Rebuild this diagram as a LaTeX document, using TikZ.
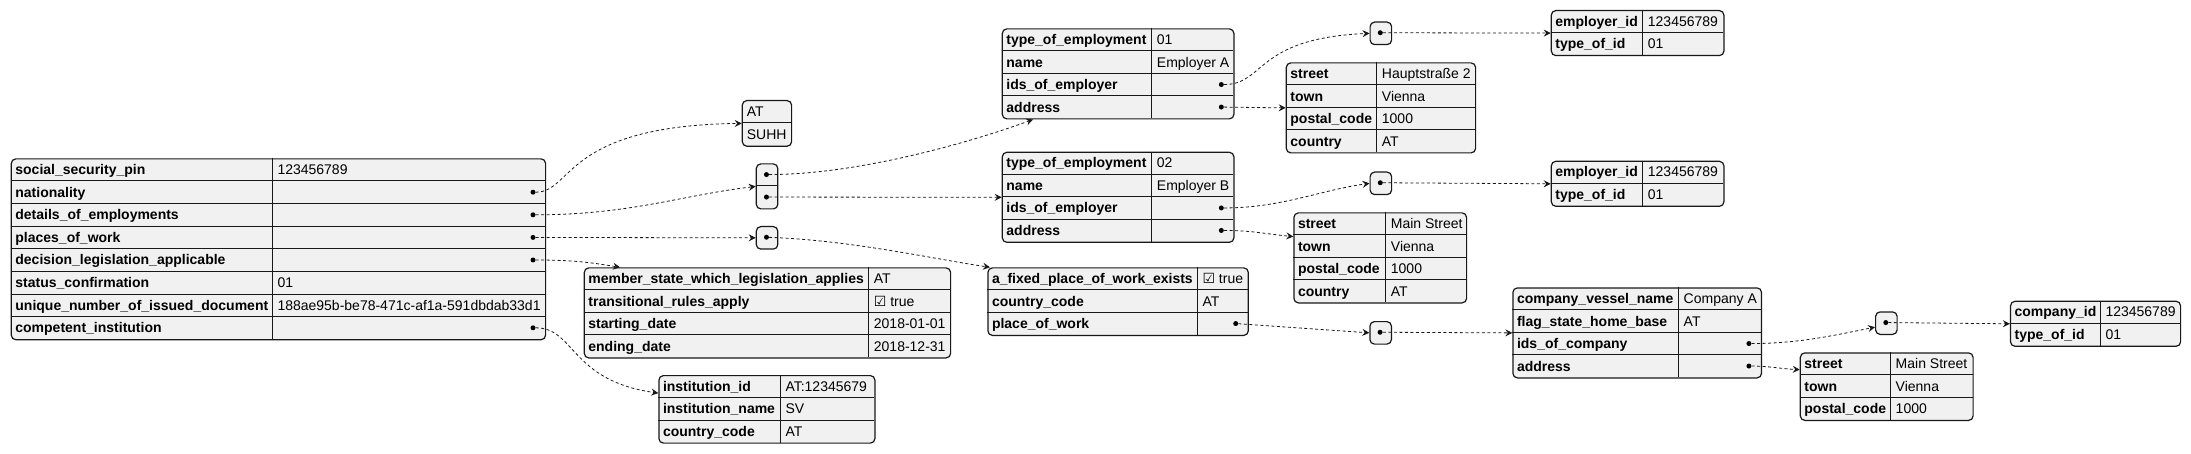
\documentclass[tikz,border=0pt]{standalone}
\usepackage{fontspec}
\setmainfont{Liberation Sans}
\newfontfamily\symf{DejaVu Sans}
\usetikzlibrary{arrows.meta}
\definecolor{cellbg}{HTML}{F1F1F1}
\definecolor{edge}{HTML}{181818}
\tikzstyle{tbl}=[draw=edge, line width=1.2pt, fill=cellbg, rounded corners=4.5pt, anchor=north west, inner sep=0pt]
\tikzstyle{kcell}=[anchor=west, inner xsep=4.5pt, inner ysep=0pt, text height=12pt, text depth=2pt, font=\fontsize{14}{16}\selectfont\bfseries]
\tikzstyle{vcell}=[kcell, inner xsep=5pt, font=\fontsize{14}{16}\selectfont]
\tikzstyle{bullet}=[circle, fill=black, minimum size=5pt, inner sep=0pt]
\tikzstyle{rule}=[draw=edge, line width=0.8pt]
\tikzstyle{conn}=[draw=edge, line width=0.8pt, dash pattern=on 3pt off 2.5pt, -{Stealth[length=7pt,width=7pt,inset=2.5pt]}]
\begin{document}
\begin{tikzpicture}[x=1pt, y=-1pt]
\useasboundingbox (0,0) rectangle (2191,454);
\node[tbl, minimum width=534.3pt, minimum height=180.8pt] (root) at (10.7,158.3) {};
\foreach \i in {1,...,7} \draw[rule] (10.7,158.3+22.6*\i) -- (545,158.3+22.6*\i);
\draw[rule] (272.3,158.3) -- (272.3,339.1);
\foreach \k/\v [count=\i] in {social\_security\_pin/123456789, nationality/{}, details\_of\_employments/{}, places\_of\_work/{}, decision\_legislation\_applicable/{}, status\_confirmation/01, unique\_number\_of\_issued\_document/188ae95b-be78-471c-af1a-591dbdab33d1, competent\_institution/{}} {
  \node[kcell] (root-k\i) at (10.7,147+22.6*\i) {\k};
  \node[vcell] (root-v\i) at (272.3,147+22.6*\i) {\v};
}
\node[bullet] (root-d2) at (533,192.2) {};
\node[bullet] (root-d3) at (533,214.8) {};
\node[bullet] (root-d4) at (533,237.4) {};
\node[bullet] (root-d5) at (533,260) {};
\node[bullet] (root-d8) at (533,327.8) {};

\node[tbl, minimum width=49.3pt, minimum height=45.6pt] (natl) at (741.7,100) {};
\draw[rule] (741.7,122.8) -- (791,122.8);
\node[vcell] (natl-v1) at (741.7,111.4) {AT};
\node[vcell] (natl-v2) at (741.7,134.2) {SUHH};

\node[tbl, minimum width=21.5pt, minimum height=45pt] (emps) at (755.7,163.3) {};
\draw[rule] (755.7,185.8) -- (777.2,185.8);
\node[bullet] (emps-d1) at (766.45,174.55) {};
\node[bullet] (emps-d2) at (766.45,197.05) {};

\node[tbl, minimum width=21.5pt, minimum height=22.5pt] (places) at (755.7,226) {};
\node[bullet] (places-d1) at (766.45,237.25) {};

\node[tbl, minimum width=366.3pt, minimum height=90pt] (dla) at (583.7,267.3) {};
\foreach \i in {1,2,3} \draw[rule] (583.7,267.3+22.5*\i) -- (950,267.3+22.5*\i);
\draw[rule] (868.7,267.3) -- (868.7,357.3);
\foreach \k/\v [count=\i] in {member\_state\_which\_legislation\_applies/AT, transitional\_rules\_apply/{\symf ☑} true, starting\_date/2018-01-01, ending\_date/2018-12-31} {
  \node[kcell] (dla-k\i) at (583.7,256.05+22.5*\i) {\k};
  \node[vcell] (dla-v\i) at (868.7,256.05+22.5*\i) {\v};
}

\node[tbl, minimum width=216pt, minimum height=67.5pt] (inst) at (658.3,375) {};
\foreach \i in {1,2} \draw[rule] (658.3,375+22.5*\i) -- (874.3,375+22.5*\i);
\draw[rule] (780.3,375) -- (780.3,442.5);
\foreach \k/\v [count=\i] in {institution\_id/AT:12345679, institution\_name/SV, country\_code/AT} {
  \node[kcell] (inst-k\i) at (658.3,363.75+22.5*\i) {\k};
  \node[vcell] (inst-v\i) at (780.3,363.75+22.5*\i) {\v};
}

\node[tbl, minimum width=231.6pt, minimum height=90pt] (empA) at (1001.7,28.3) {};
\foreach \i in {1,2,3} \draw[rule] (1001.7,28.3+22.5*\i) -- (1233.3,28.3+22.5*\i);
\draw[rule] (1151.7,28.3) -- (1151.7,118.3);
\foreach \k/\v [count=\i] in {type\_of\_employment/01, name/Employer A, ids\_of\_employer/{}, address/{}} {
  \node[kcell] (empA-k\i) at (1001.7,17.05+22.5*\i) {\k};
  \node[vcell] (empA-v\i) at (1151.7,17.05+22.5*\i) {\v};
}
\node[bullet] (empA-d3) at (1221.3,84.55) {};
\node[bullet] (empA-d4) at (1221.3,107.05) {};

\node[tbl, minimum width=231.6pt, minimum height=90pt] (empB) at (1001.7,151.7) {};
\foreach \i in {1,2,3} \draw[rule] (1001.7,151.7+22.5*\i) -- (1233.3,151.7+22.5*\i);
\draw[rule] (1151.7,151.7) -- (1151.7,241.7);
\foreach \k/\v [count=\i] in {type\_of\_employment/02, name/Employer B, ids\_of\_employer/{}, address/{}} {
  \node[kcell] (empB-k\i) at (1001.7,140.45+22.5*\i) {\k};
  \node[vcell] (empB-v\i) at (1151.7,140.45+22.5*\i) {\v};
}
\node[bullet] (empB-d3) at (1221.3,207.95) {};
\node[bullet] (empB-d4) at (1221.3,230.45) {};

\node[tbl, minimum width=260.4pt, minimum height=67.5pt] (fpw) at (987.3,267.3) {};
\foreach \i in {1,2} \draw[rule] (987.3,267.3+22.5*\i) -- (1247.7,267.3+22.5*\i);
\draw[rule] (1197.3,267.3) -- (1197.3,334.8);
\foreach \k/\v [count=\i] in {a\_fixed\_place\_of\_work\_exists/{\symf ☑} true, country\_code/AT, place\_of\_work/{}} {
  \node[kcell] (fpw-k\i) at (987.3,256.05+22.5*\i) {\k};
  \node[vcell] (fpw-v\i) at (1197.3,256.05+22.5*\i) {\v};
}
\node[bullet] (fpw-d3) at (1235.7,323.55) {};

\node[tbl, minimum width=21.5pt, minimum height=22.5pt] (idsA) at (1369.5,21.5) {};
\node[bullet] (idsA-d1) at (1380.25,32.75) {};

\node[tbl, minimum width=189.3pt, minimum height=90pt] (addrA) at (1285.7,62.3) {};
\foreach \i in {1,2,3} \draw[rule] (1285.7,62.3+22.5*\i) -- (1475,62.3+22.5*\i);
\draw[rule] (1376.7,62.3) -- (1376.7,152.3);
\foreach \k/\v [count=\i] in {street/Hauptstraße 2, town/Vienna, postal\_code/1000, country/AT} {
  \node[kcell] (addrA-k\i) at (1285.7,51.05+22.5*\i) {\k};
  \node[vcell] (addrA-v\i) at (1376.7,51.05+22.5*\i) {\v};
}

\node[tbl, minimum width=21.5pt, minimum height=22.5pt] (idsB) at (1369.5,171.5) {};
\node[bullet] (idsB-d1) at (1380.25,182.75) {};

\node[tbl, minimum width=172.7pt, minimum height=90pt] (addrB) at (1293.3,212.3) {};
\foreach \i in {1,2,3} \draw[rule] (1293.3,212.3+22.5*\i) -- (1466,212.3+22.5*\i);
\draw[rule] (1385.7,212.3) -- (1385.7,302.3);
\foreach \k/\v [count=\i] in {street/Main Street, town/Vienna, postal\_code/1000, country/AT} {
  \node[kcell] (addrB-k\i) at (1293.3,201.05+22.5*\i) {\k};
  \node[vcell] (addrB-v\i) at (1385.7,201.05+22.5*\i) {\v};
}

\node[tbl, minimum width=172.6pt, minimum height=45pt] (eidA) at (1550.7,10) {};
\draw[rule] (1550.7,32.5) -- (1723.3,32.5);
\draw[rule] (1642.7,10) -- (1642.7,55);
\foreach \k/\v [count=\i] in {employer\_id/123456789, type\_of\_id/01} {
  \node[kcell] (eidA-k\i) at (1550.7,-1.25+22.5*\i) {\k};
  \node[vcell] (eidA-v\i) at (1642.7,-1.25+22.5*\i) {\v};
}

\node[tbl, minimum width=172.6pt, minimum height=45pt] (eidB) at (1550.7,160.7) {};
\draw[rule] (1550.7,183.2) -- (1723.3,183.2);
\draw[rule] (1642.7,160.7) -- (1642.7,205.7);
\foreach \k/\v [count=\i] in {employer\_id/123456789, type\_of\_id/01} {
  \node[kcell] (eidB-k\i) at (1550.7,149.45+22.5*\i) {\k};
  \node[vcell] (eidB-v\i) at (1642.7,149.45+22.5*\i) {\v};
}

\node[tbl, minimum width=21.5pt, minimum height=22.5pt] (pow) at (1369.3,321) {};
\node[bullet] (pow-d1) at (1380.05,332.25) {};

\node[tbl, minimum width=248.6pt, minimum height=90pt] (comp) at (1512.3,287.3) {};
\foreach \i in {1,2,3} \draw[rule] (1512.3,287.3+22.5*\i) -- (1760.9,287.3+22.5*\i);
\draw[rule] (1678.5,287.3) -- (1678.5,377.3);
\foreach \k/\v [count=\i] in {company\_vessel\_name/Company A, flag\_state\_home\_base/AT, ids\_of\_company/{}, address/{}} {
  \node[kcell] (comp-k\i) at (1512.3,276.05+22.5*\i) {\k};
  \node[vcell] (comp-v\i) at (1678.5,276.05+22.5*\i) {\v};
}
\node[bullet] (comp-d3) at (1748.9,343.55) {};
\node[bullet] (comp-d4) at (1748.9,366.05) {};

\node[tbl, minimum width=21.5pt, minimum height=22.5pt] (idsC) at (1875,311.3) {};
\node[bullet] (idsC-d1) at (1885.75,322.55) {};

\node[tbl, minimum width=170.1pt, minimum height=45pt] (cid) at (2009.9,300.7) {};
\draw[rule] (2009.9,323.2) -- (2180,323.2);
\draw[rule] (2100.3,300.7) -- (2100.3,345.7);
\foreach \k/\v [count=\i] in {company\_id/123456789, type\_of\_id/01} {
  \node[kcell] (cid-k\i) at (2009.9,289.45+22.5*\i) {\k};
  \node[vcell] (cid-v\i) at (2100.3,289.45+22.5*\i) {\v};
}

\node[tbl, minimum width=172.8pt, minimum height=67.5pt] (addrC) at (1799.7,352.3) {};
\foreach \i in {1,2} \draw[rule] (1799.7,352.3+22.5*\i) -- (1972.5,352.3+22.5*\i);
\draw[rule] (1890.5,352.3) -- (1890.5,419.8);
\foreach \k/\v [count=\i] in {street/Main Street, town/Vienna, postal\_code/1000} {
  \node[kcell] (addrC-k\i) at (1799.7,341.05+22.5*\i) {\k};
  \node[vcell] (addrC-v\i) at (1890.5,341.05+22.5*\i) {\v};
}

\draw[conn] (root-d2) .. controls +(40,0) and +(-178.7,2.2) .. (natl.west);
\draw[conn] (root-d3) .. controls +(97,0) and +(-75,9) .. (emps.west);
\draw[conn] (root-d4) -- (places.west);
\draw[conn] (root-d5) .. controls +(45,0) and +(-25,-4) .. ([xshift=36.3pt]dla.north west);
\draw[conn] (root-d8) .. controls +(42,0) and +(-88.3,-12.5) .. ([yshift=16.25pt]inst.west);
\draw[conn] (emps-d1) .. controls +(93,0) and +(-60,22) .. ([xshift=31.3pt]empA.south west);
\draw[conn] (emps-d2) -- (empB.west);
\draw[conn] (places-d1) .. controls +(84,3) and +(-60,-9) .. ([xshift=2.7pt]fpw.north west);
\draw[conn] (empA-d3) .. controls +(44,0) and +(-115,5) .. (idsA.west);
\draw[conn] (empA-d4) -- (addrA.west);
\draw[conn] (idsA-d1) -- (eidA.west);
\draw[conn] (empB-d3) .. controls +(60,0) and +(-50,7) .. (idsB.west);
\draw[conn] (empB-d4) .. controls +(30,0) and +(-30,-3) .. ([yshift=21.3pt]addrB.west);
\draw[conn] (idsB-d1) -- (eidB.west);
\draw[conn] (fpw-d3) -- (pow.west);
\draw[conn] (pow-d1) -- (comp.west);
\draw[conn] (comp-d3) .. controls +(50,0) and +(-40,8) .. ([yshift=-4pt]idsC.west);
\draw[conn] (comp-d4) .. controls +(20,0) and +(-20,-1) .. ([yshift=17pt]addrC.west);
\draw[conn] (idsC-d1) -- (cid.west);
\end{tikzpicture}
\end{document}
